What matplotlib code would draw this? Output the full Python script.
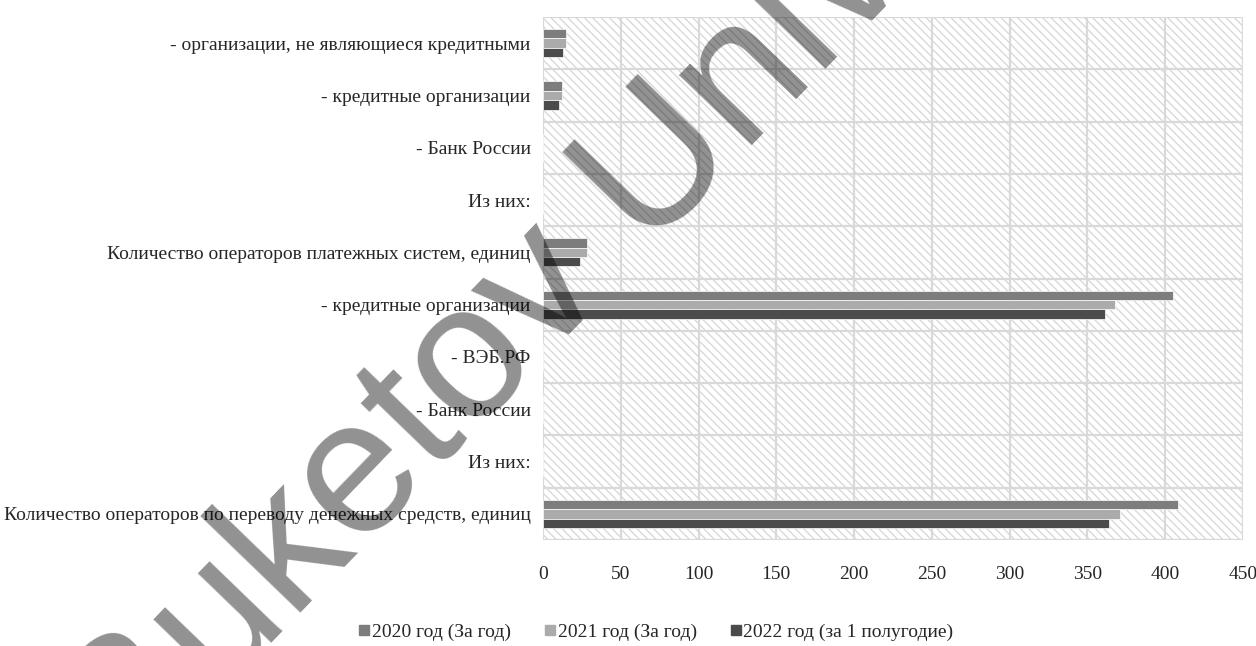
import numpy as np
import matplotlib
matplotlib.use("Agg")
import matplotlib.pyplot as plt
from matplotlib.patches import Rectangle
from matplotlib.lines import Line2D

plt.rcParams['font.family'] = ['Liberation Serif', 'DejaVu Serif']
plt.rcParams['hatch.linewidth'] = 0.9

# categories, bottom to top
categories = [
    "Количество операторов по переводу денежных средств, единиц",
    "Из них:",
    "- Банк России",
    "- ВЭБ.РФ",
    "- кредитные организации",
    "Количество операторов платежных систем, единиц",
    "Из них:",
    "- Банк России",
    "- кредитные организации",
    "- организации, не являющиеся кредитными",
]
series_names = ["2020 год (За год)", "2021 год (За год)", "2022 год (за 1 полугодие)"]
v2020 = [408, 0, 0, 0, 405, 28, 0, 0, 12, 15]
v2021 = [371, 0, 0, 0, 368, 28, 0, 0, 12, 15]
v2022 = [364, 0, 0, 0, 361, 24, 0, 0, 10, 13]
x_ticks = [0, 50, 100, 150, 200, 250, 300, 350, 400, 450]

colors = ["#7d7d7d", "#ababab", "#4b4b4b"]
text_color = "#262626"

fig = plt.figure(figsize=(12.56, 6.46), dpi=100)
ax = fig.add_axes([543 / 1256, 1 - 540 / 646, (1243 - 543) / 1256, (540 - 17) / 646])

y = np.arange(len(categories))
h = 0.18
for vals, off, col, name in zip([v2020, v2021, v2022], [h, 0, -h], colors, series_names):
    ax.barh(y + off, vals, height=h, color=col, edgecolor="white", linewidth=0.5,
            zorder=3, label=name)

# hatched background
ax.add_patch(Rectangle((0, 0), 1, 1, transform=ax.transAxes, facecolor="white",
                       edgecolor="#d6d6d6", hatch="\\\\\\\\", linewidth=0, zorder=0.1))

ax.set_xlim(0, 450)
ax.set_ylim(-0.5, len(categories) - 0.5)
ax.set_xticks(x_ticks)
ax.set_xticklabels([str(t) for t in x_ticks])
ax.set_yticks(y)
ax.set_yticklabels(categories)
ax.set_yticks(np.arange(-0.5, len(categories), 1), minor=True)
ax.set_axisbelow(True)
ax.xaxis.grid(True, color="#d9d9d9", linewidth=1.6)
ax.yaxis.grid(True, which="minor", color="#d9d9d9", linewidth=1.6)
ax.yaxis.grid(False, which="major")
for s in ax.spines.values():
    s.set_visible(False)
ax.tick_params(axis="both", which="both", length=0, colors=text_color, labelsize=14)
ax.tick_params(axis="y", pad=9)
ax.tick_params(axis="x", pad=19)

handles = [Line2D([0], [0], marker="s", linestyle="none", markersize=7,
                  markerfacecolor=c, markeredgecolor=c) for c in colors]
leg = fig.legend(handles, series_names, loc="center", ncol=3,
                 bbox_to_anchor=(656 / 1256, 1 - 632 / 646), frameon=False,
                 fontsize=14, handlelength=0.6, handletextpad=0.1,
                 columnspacing=1.7, labelcolor=text_color)

# watermark
fig.text(645 / 1256, 1 - 185 / 646, "Buketov University", fontsize=138,
         family=["Liberation Sans", "DejaVu Sans"], color="black", alpha=0.43,
         rotation=46, rotation_mode="anchor", ha="center", va="center", zorder=10)

fig.savefig("out.png", dpi=100)
